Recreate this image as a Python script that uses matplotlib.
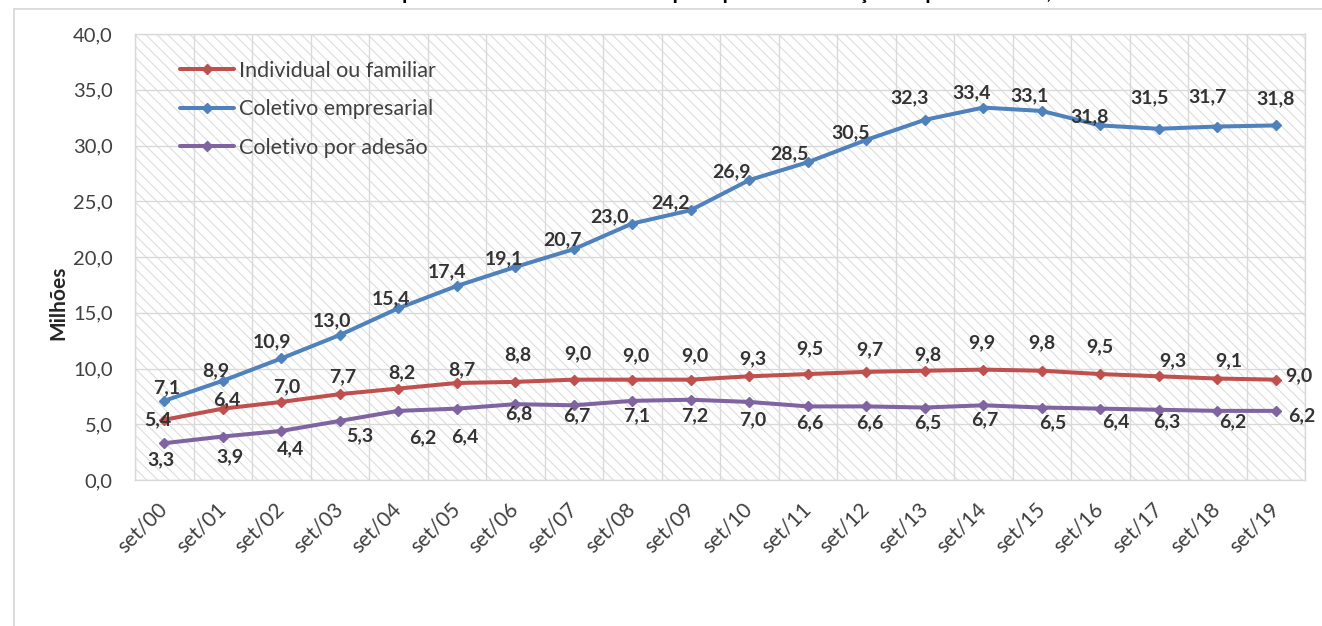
import matplotlib
matplotlib.use("Agg")
import matplotlib.pyplot as plt
from matplotlib.patches import Rectangle
from matplotlib.ticker import FuncFormatter, MultipleLocator

plt.rcParams['font.family'] = ['Lato', 'DejaVu Sans']
plt.rcParams['hatch.linewidth'] = 0.8

# ---- data ----
categories = ['set/00', 'set/01', 'set/02', 'set/03', 'set/04', 'set/05', 'set/06',
              'set/07', 'set/08', 'set/09', 'set/10', 'set/11', 'set/12', 'set/13',
              'set/14', 'set/15', 'set/16', 'set/17', 'set/18', 'set/19']
individual = [5.4, 6.4, 7.0, 7.7, 8.2, 8.7, 8.8, 9.0, 9.0, 9.0,
              9.3, 9.5, 9.7, 9.8, 9.9, 9.8, 9.5, 9.3, 9.1, 9.0]
empresarial = [7.1, 8.9, 10.9, 13.0, 15.4, 17.4, 19.1, 20.7, 23.0, 24.2,
               26.9, 28.5, 30.5, 32.3, 33.4, 33.1, 31.8, 31.5, 31.7, 31.8]
adesao = [3.3, 3.9, 4.4, 5.3, 6.2, 6.4, 6.8, 6.7, 7.1, 7.2,
          7.0, 6.6, 6.6, 6.5, 6.7, 6.5, 6.4, 6.3, 6.2, 6.2]
series_names = ['Individual ou familiar', 'Coletivo empresarial', 'Coletivo por adesão']
title_text = ('Beneficiários de planos de assistência médica por tipo de contratação '
              'do plano - Brasil, 2000-2019')
ylabel_text = 'Milhões'

# ---- label offsets (pixels: dx, dy up) ----
off_ind = [(-6, 0), (4, 9), (5, 15), (3, 17), (4, 16), (5, 13), (3, 27), (4, 26), (4, 24), (4, 24),
           (4, 18), (2, 25), (4, 22), (3, 16), (-1, 27), (0, 28), (0, 27), (14, 16), (12, 18), (23, 4)]
off_emp = [(2, 13), (-7, 10), (-9, 17), (-8, 14), (-7, 10), (-10, 14), (-11, 8), (-11, 9), (-23, 7), (-20, 7),
           (-18, 8), (-18, 8), (-16, 7), (-15, 22), (-12, 15), (-12, 15), (-11, 9), (-9, 31), (-10, 30), (0, 27)]
off_ade = [(-3, -17), (7, -20), (9, -18), (20, -15), (24, -27), (8, -28), (3, -10), (3, -10), (4, -15), (4, -16),
           (4, -18), (2, -16), (4, -16), (3, -15), (1, -14), (11, -15), (16, -13), (8, -12), (16, -11), (26, -5)]

colors = ['#C0504D', '#4F81BD', '#8064A2']
grid_c = '#d9d9d9'
text_c = '#404040'

W, H = 1322, 626
fig = plt.figure(figsize=(W / 100, H / 100), dpi=100)

# chart border
fig.patches.append(Rectangle((14 / W, -0.1), 1.2, 1.1 - 9 / H, transform=fig.transFigure,
                             facecolor='none', edgecolor=grid_c, lw=1.3, zorder=0))

ax = fig.add_axes([135 / W, 1 - 480 / H, (1305 - 135) / W, (480 - 34) / H])
ax.set_xlim(-0.5, len(categories) - 0.5)
ax.set_ylim(0, 40)
ax.patch.set_visible(False)
ax.add_patch(Rectangle((0, 0), 1, 1, transform=ax.transAxes, facecolor='white',
                       edgecolor='#dddddd', hatch='\\\\\\', lw=0, zorder=0))

# gridlines
ax.set_axisbelow(True)
ax.yaxis.set_major_locator(MultipleLocator(5))
ax.xaxis.set_minor_locator(MultipleLocator(0.5))
ax.grid(True, which='major', axis='y', color=grid_c, lw=1.0)
ax.grid(True, which='minor', axis='x', color=grid_c, lw=1.0)
for s in ax.spines.values():
    s.set_color(grid_c)
    s.set_linewidth(1.0)

x = list(range(len(categories)))
data = [individual, empresarial, adesao]
offs = [off_ind, off_emp, off_ade]
handles = []
for vals, col, name, off in zip(data, colors, series_names, offs):
    ln, = ax.plot(x, vals, color=col, lw=2.9, marker='D', markersize=5, label=name,
                  solid_capstyle='round', zorder=3)
    handles.append(ln)
    for xi, v, (dx, dy) in zip(x, vals, off):
        ax.annotate(f'{v:.1f}'.replace('.', ','), (xi, v), xytext=(dx, dy),
                    textcoords='offset pixels', ha='center', va='center',
                    fontsize=14, fontweight='bold', color='#333333', zorder=4,
                    annotation_clip=False)

ax.yaxis.set_major_formatter(FuncFormatter(lambda v, p: f'{v:.1f}'.replace('.', ',')))
ax.tick_params(axis='y', length=0, pad=16, labelsize=14.5, labelcolor=text_c)
ax.set_xticks(x)
ax.set_xticklabels(categories)
ax.tick_params(axis='x', which='both', length=0, pad=19, labelsize=15, labelcolor=text_c)
for lab in ax.get_xticklabels():
    lab.set_rotation(45)
    lab.set_ha('right')
    lab.set_va('center')
    lab.set_rotation_mode('anchor')

fig.text(58 / W, 1 - 303 / H, ylabel_text, rotation=90, ha='center', va='center',
         fontsize=15, fontweight='bold', color='#262626')

leg = fig.legend(handles=handles, loc='upper left', bbox_to_anchor=(180 / W, 1 - 61 / H),
                 frameon=False, fontsize=15.5, handlelength=2.5, handletextpad=0.25,
                 labelspacing=0.85, borderpad=0, borderaxespad=0)
for t in leg.get_texts():
    t.set_color(text_c)

fig.text(705 / W, 1 + 0.5 / H, title_text, ha='center', va='baseline',
         fontsize=15, fontweight='bold', color='#000000')

fig.savefig('out.png', dpi=100)
